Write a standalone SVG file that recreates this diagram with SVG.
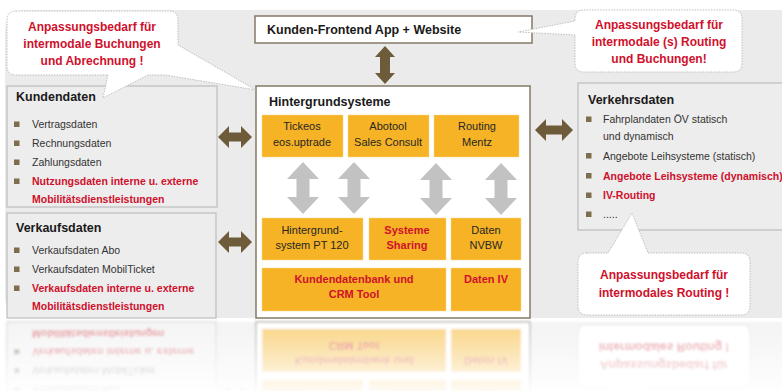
<svg xmlns="http://www.w3.org/2000/svg" xmlns:xlink="http://www.w3.org/1999/xlink" width="782" height="391" viewBox="0 0 782 391">
<defs>
<style>
text{font-family:"Liberation Sans",Arial,sans-serif;}
.t{font-size:12.5px;font-weight:bold;fill:#1a1a1a;}
.b{font-size:10.5px;fill:#333;}
.r{font-size:10.5px;font-weight:bold;fill:#d0102c;}
.c{font-size:12px;font-weight:bold;fill:#d0102c;text-anchor:middle;}
.o{font-size:11px;fill:#262626;text-anchor:middle;}
.or{font-size:11px;font-weight:bold;fill:#d0102c;text-anchor:middle;}
.panel{fill:#ededed;stroke:#bdbdbd;stroke-width:1.2;}
.orange{fill:#f5b325;stroke:#fbd98a;stroke-width:0.8;stroke-dasharray:1.5 1;}
.bubble{fill:#fff;stroke:#b9b9b9;stroke-width:0.9;stroke-dasharray:1.5 1.2;}
.brown{fill:#6d5b39;}
.gray{fill:#c2c2c2;}
.bul{fill:#7f6e4d;}
</style>
<linearGradient id="fg" gradientUnits="userSpaceOnUse" x1="0" y1="320" x2="0" y2="391">
<stop offset="0" stop-color="#fff" stop-opacity="0.6"/>
<stop offset="1" stop-color="#fff" stop-opacity="0.05"/>
</linearGradient>
<mask id="fade" maskUnits="userSpaceOnUse" x="0" y="318" width="782" height="73">
<rect x="0" y="318" width="782" height="73" fill="url(#fg)"/>
</mask>
<filter id="blur"><feGaussianBlur stdDeviation="0.8"/></filter>
</defs>
<rect width="782" height="391" fill="#fff"/>
<g id="scene">
<rect id="background" x="5" y="10" width="800" height="308" rx="20" fill="#ebebeb"/>

<g id="frontend">
<rect x="255" y="16" width="277" height="27" fill="#fff" stroke="#857a66" stroke-width="1.5"/>
<text class="t" x="267" y="34" font-size="12">Kunden-Frontend App + Website</text>
</g>

<g id="kundendaten">
<rect class="panel" x="7" y="86" width="210" height="121"/>
<text class="t" x="16" y="101">Kundendaten</text>
<rect class="bul" x="14" y="121.5" width="5.5" height="5.5"/><text class="b" x="32" y="128">Vertragsdaten</text>
<rect class="bul" x="14" y="140.5" width="5.5" height="5.5"/><text class="b" x="32" y="147">Rechnungsdaten</text>
<rect class="bul" x="14" y="159.5" width="5.5" height="5.5"/><text class="b" x="32" y="166">Zahlungsdaten</text>
<rect class="bul" x="14" y="178.5" width="5.5" height="5.5"/><text class="r" x="32" y="185">Nutzungsdaten interne u. externe</text>
<text class="r" x="32" y="203">Mobilitätsdienstleistungen</text>
</g>

<g id="verkaufsdaten">
<rect class="panel" x="7" y="213" width="209" height="105"/>
<text class="t" x="16" y="232">Verkaufsdaten</text>
<rect class="bul" x="14" y="247.5" width="5.5" height="5.5"/><text class="b" x="32" y="254">Verkaufsdaten Abo</text>
<rect class="bul" x="14" y="266.5" width="5.5" height="5.5"/><text class="b" x="32" y="273">Verkaufsdaten MobilTicket</text>
<rect class="bul" x="14" y="285.5" width="5.5" height="5.5"/><text class="r" x="32" y="292">Verkaufsdaten interne u. externe</text>
<text class="r" x="32" y="310">Mobilitätsdienstleistungen</text>
</g>

<g id="verkehrsdaten">
<rect class="panel" x="578" y="83" width="220" height="147"/>
<text class="t" x="588" y="104">Verkehrsdaten</text>
<rect class="bul" x="586" y="116.5" width="5.5" height="5.5"/><text class="b" x="603" y="123">Fahrplandaten ÖV statisch</text>
<text class="b" x="603" y="140">und dynamisch</text>
<rect class="bul" x="586" y="153" width="5.5" height="5.5"/><text class="b" x="603" y="160">Angebote Leihsysteme (statisch)</text>
<rect class="bul" x="586" y="173" width="5.5" height="5.5"/><text class="r" x="603" y="180">Angebote Leihsysteme (dynamisch)</text>
<rect class="bul" x="586" y="192.5" width="5.5" height="5.5"/><text class="r" x="603" y="199">IV-Routing</text>
<rect class="bul" x="586" y="211.5" width="5.5" height="5.5"/><text class="b" x="603" y="218">.....</text>
</g>

<g id="hintergrundsysteme">
<rect x="256" y="86" width="274" height="232" fill="#fff" stroke="#857a66" stroke-width="1.5"/>
<text class="t" x="269" y="106">Hintergrundsysteme</text>
</g>

<g id="tickeos">
<rect class="orange" x="262" y="115" width="81" height="42"/>
<text class="o" x="302" y="130">Tickeos</text><text class="o" x="302" y="146">eos.uptrade</text>
</g>
<g id="abotool">
<rect class="orange" x="348" y="115" width="81" height="42"/>
<text class="o" x="388" y="130">Abotool</text><text class="o" x="388" y="146">Sales Consult</text>
</g>
<g id="routing">
<rect class="orange" x="434" y="115" width="85" height="42"/>
<text class="o" x="477" y="130">Routing</text><text class="o" x="477" y="146">Mentz</text>
</g>
<g id="pt120">
<rect class="orange" x="262" y="218" width="101" height="42"/>
<text class="o" x="312" y="234">Hintergrund-</text><text class="o" x="312" y="249">system PT 120</text>
</g>
<g id="sharing">
<rect class="orange" x="369" y="218" width="77" height="42"/>
<text class="or" x="407" y="234">Systeme</text><text class="or" x="407" y="249">Sharing</text>
</g>
<g id="nvbw">
<rect class="orange" x="451" y="218" width="70" height="42"/>
<text class="o" x="486" y="234">Daten</text><text class="o" x="486" y="249">NVBW</text>
</g>
<g id="crm">
<rect class="orange" x="262" y="268" width="184" height="43"/>
<text class="or" x="354" y="283">Kundendatenbank und</text><text class="or" x="354" y="298">CRM Tool</text>
</g>
<g id="datenIV">
<rect class="orange" x="451" y="268" width="70" height="43"/>
<text class="or" x="486" y="283">Daten IV</text>
</g>

<g id="connectors">
<path class="brown" d="M385,46 L395,57 L390,57 L390,73 L395,73 L385,84 L375,73 L380,73 L380,57 L375,57 Z"/>
<path class="brown" d="M218,137 L229,126 L229,132.5 L241,132.5 L241,126 L252,137 L241,148 L241,141.5 L229,141.5 L229,148 Z"/>
<path class="brown" d="M218,242 L229,231 L229,237.5 L241,237.5 L241,231 L252,242 L241,253 L241,246.5 L229,246.5 L229,253 Z"/>
<path class="brown" d="M535,130 L546,119 L546,125.5 L562,125.5 L562,119 L573,130 L562,141 L562,134.5 L546,134.5 L546,141 Z"/>
<path class="gray" d="M303,162 L319,179 L309.5,179 L309.5,197 L319,197 L303,214 L287,197 L296.5,197 L296.5,179 L287,179 Z"/>
<path class="gray" d="M354,162 L370,179 L360.5,179 L360.5,197 L370,197 L354,214 L338,197 L347.5,197 L347.5,179 L338,179 Z"/>
<path class="gray" d="M436,163 L452,180 L442.5,180 L442.5,198 L452,198 L436,215 L420,198 L429.5,198 L429.5,180 L420,180 Z"/>
<path class="gray" d="M501,163 L517,180 L507.5,180 L507.5,198 L517,198 L501,215 L485,198 L494.5,198 L494.5,180 L485,180 Z"/>
</g>

<g id="callout-buchungen">
<path class="bubble" d="M16,11 L169,11 Q178,11 178,20 L178,45 L256,90 L165,75 L148,75 L103,98 L108,75 L16,75 Q7,75 7,66 L7,20 Q7,11 16,11 Z"/>
<text class="c" x="92" y="31">Anpassungsbedarf für</text>
<text class="c" x="92" y="48">intermodale Buchungen</text>
<text class="c" x="92" y="65">und Abrechnung !</text>
</g>

<g id="callout-routing-buchungen">
<path class="bubble" d="M584,10 L733,10 Q742,10 742,19 L742,63 Q742,72 733,72 L584,72 Q575,72 575,63 L575,35 L518,32 L575,21 L575,19 Q575,10 584,10 Z"/>
<text class="c" x="659" y="29">Anpassungsbedarf für</text>
<text class="c" x="659" y="46">intermodale (s) Routing</text>
<text class="c" x="659" y="63">und Buchungen!</text>
</g>

<g id="callout-routing">
<path class="bubble" d="M587,253 L608,253 L632,213 L648,253 L741,253 Q750,253 750,262 L750,306 Q750,315 741,315 L587,315 Q578,315 578,306 L578,262 Q578,253 587,253 Z"/>
<text class="c" x="664" y="279">Anpassungsbedarf für</text>
<text class="c" x="664" y="297">intermodales Routing !</text>
</g>
</g>

<g id="reflection" mask="url(#fade)" filter="url(#blur)">
<use xlink:href="#scene" transform="translate(0,640) scale(1,-1)"/>
</g>
</svg>
